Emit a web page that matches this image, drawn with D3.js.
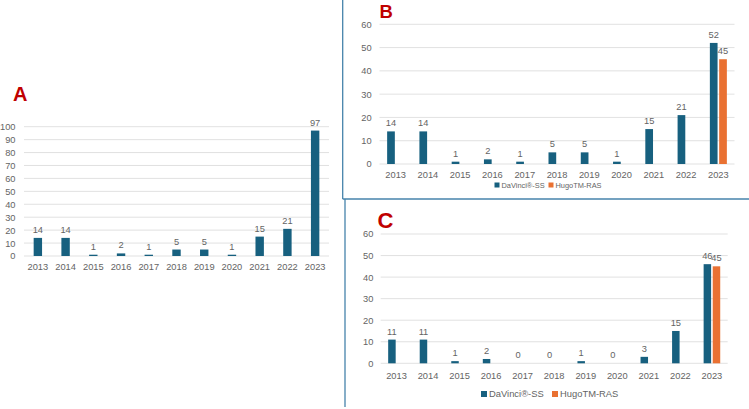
<!DOCTYPE html>
<html lang="en">
<head>
<meta charset="UTF-8">
<script src="https://d3js.org/d3.v7.min.js"></script>
<title>Robotic cases per year</title>
<style>
    body { margin: 0; background: #fff; }
    text { font-family: "Liberation Sans", Arial, sans-serif; }
</style>
</head>
<body>
<svg id="chart" width="749" height="409"></svg>
<script>
    // data
    const years = ["2013", "2014", "2015", "2016", "2017", "2018", "2019", "2020", "2021", "2022", "2023"];
    const totalA = [14, 14, 1, 2, 1, 5, 5, 1, 15, 21, 97];
    const davinciB = [14, 14, 1, 2, 1, 5, 5, 1, 15, 21, 52];
    const hugoB = [null, null, null, null, null, null, null, null, null, null, 45];
    const davinciC = [11, 11, 1, 2, 0, 0, 1, 0, 3, 15, 46];
    const hugoC = [null, null, null, null, null, null, null, null, null, null, 45];
    const seriesNames = ["DaVinci®-SS", "HugoTM-RAS"];

    const blue = "#17607f", orange = "#e97132", grey = "#646464", grid = "#d9d9d9";

    const svg = d3.select("#chart");

    function drawPanel(p) {
        const g = svg.append("g");
        const x = d3.scaleBand().domain(years).range(p.xRange);
        const y = d3.scaleLinear().domain([0, p.yMax]).range(p.yRange);

        // gridlines
        g.append("g").selectAll("line")
            .data(y.ticks(p.yMax / 10))
            .join("line")
            .attr("x1", p.xRange[0]).attr("x2", p.xRange[1])
            .attr("y1", d => y(d)).attr("y2", d => y(d))
            .attr("stroke", grid).attr("stroke-width", 0.8);

        // y axis labels
        const yAxis = g.append("g")
            .attr("transform", `translate(${p.yLabelX},0)`)
            .call(d3.axisLeft(y).ticks(p.yMax / 10).tickSize(0).tickPadding(0))
            .call(a => a.select(".domain").remove());
        yAxis.selectAll("text").attr("fill", grey).style("font-size", p.font + "px");

        // x axis labels
        const xAxis = g.append("g")
            .attr("transform", `translate(0,${p.xLabelY})`)
            .call(d3.axisBottom(x).tickSize(0).tickPadding(0))
            .call(a => a.select(".domain").remove());
        xAxis.selectAll("text").attr("fill", grey).style("font-size", p.font + "px");

        p.series.forEach((s, si) => {
            const off = p.series.length === 1 ? -p.barW / 2
                : (si === 0 ? -p.barW - p.gap / 2 : p.gap / 2);
            const rows = years.map((yr, i) => ({ yr, v: s.values[i] })).filter(d => d.v !== null);
            g.append("g").selectAll("rect")
                .data(rows)
                .join("rect")
                .attr("x", d => x(d.yr) + x.bandwidth() / 2 + off)
                .attr("y", d => y(d.v))
                .attr("width", p.barW)
                .attr("height", d => y(0) - y(d.v))
                .attr("fill", s.color);
            g.append("g").selectAll("text")
                .data(rows)
                .join("text")
                .attr("x", d => x(d.yr) + x.bandwidth() / 2 + off + p.barW / 2)
                .attr("y", d => y(d.v) - 5)
                .attr("text-anchor", "middle")
                .attr("fill", grey)
                .style("font-size", p.font + "px")
                .text(d => d.v);
        });

        // legend
        if (p.legend) {
            p.legend.items.forEach((it, i) => {
                g.append("rect")
                    .attr("x", it.x).attr("y", p.legend.y - p.legend.sq / 2)
                    .attr("width", p.legend.sq).attr("height", p.legend.sq)
                    .attr("fill", p.series[i].color);
                g.append("text")
                    .attr("x", it.x + p.legend.sq + 2).attr("y", p.legend.y)
                    .attr("dy", "0.35em")
                    .attr("fill", grey)
                    .style("font-size", p.legend.font + "px")
                    .text(seriesNames[i]);
            });
        }

        // panel letter
        g.append("text")
            .attr("x", p.letter.x).attr("y", p.letter.y)
            .attr("fill", "#c00000")
            .attr("font-weight", "bold")
            .style("font-size", p.letter.size + "px")
            .text(p.letter.t);
    }

    drawPanel({
        xRange: [24, 329], yRange: [256, 126.7], yMax: 100,
        yLabelX: 15.5, xLabelY: 263.5, font: 9.3, barW: 8.4, gap: 0,
        series: [{ values: totalA, color: blue }],
        letter: { t: "A", x: 13, y: 100.7, size: 20 }
    });

    drawPanel({
        xRange: [379.5, 734.5], yRange: [164, 24.3], yMax: 60,
        yLabelX: 371.7, xLabelY: 171, font: 9.3, barW: 7.7, gap: 1.6,
        series: [{ values: davinciB, color: blue }, { values: hugoB, color: orange }],
        legend: { y: 185, sq: 5, font: 7.4, items: [{ x: 494.5 }, { x: 548.5 }] },
        letter: { t: "B", x: 379.5, y: 18.3, size: 18.5 }
    });

    drawPanel({
        xRange: [380.7, 727.7], yRange: [363.3, 234], yMax: 60,
        yLabelX: 373.3, xLabelY: 372, font: 9.3, barW: 7.5, gap: 1.6,
        series: [{ values: davinciC, color: blue }, { values: hugoC, color: orange }],
        legend: { y: 394, sq: 6, font: 9.4, items: [{ x: 481 }, { x: 552 }] },
        letter: { t: "C", x: 377.5, y: 228.3, size: 22 }
    });

    // panel dividers
    const divider = "#4683ab";
    svg.append("line").attr("x1", 342.7).attr("x2", 342.7).attr("y1", 0).attr("y2", 199)
        .attr("stroke", divider).attr("stroke-width", 1.3);
    svg.append("line").attr("x1", 342.7).attr("x2", 749).attr("y1", 199).attr("y2", 199)
        .attr("stroke", divider).attr("stroke-width", 1.3);
    svg.append("line").attr("x1", 345).attr("x2", 345).attr("y1", 199).attr("y2", 407)
        .attr("stroke", divider).attr("stroke-width", 1.3);
</script>
</body>
</html>
